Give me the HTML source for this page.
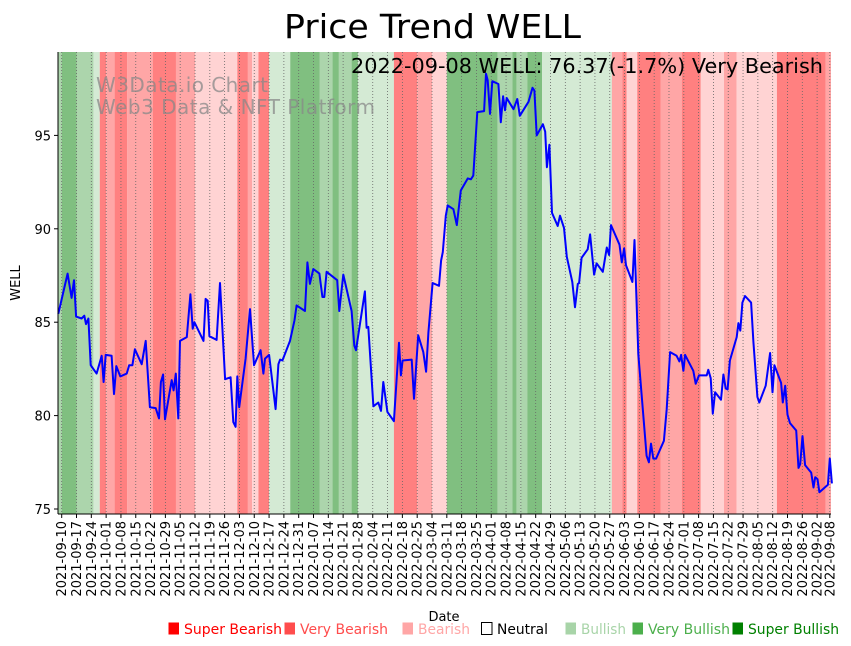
<!DOCTYPE html>
<html><head><meta charset="utf-8"><style>
body{margin:0;background:#fff;}
svg{display:block;font-family:"DejaVu Sans","Liberation Sans",sans-serif;}
</style></head><body>
<svg id="chart" width="851" height="646" viewBox="0 0 851 646" xmlns="http://www.w3.org/2000/svg">
<rect x="0" y="0" width="851" height="646" fill="#fff"/>
<g id="bands"></g>
<g id="grid"></g>
<text x="96" y="92" font-size="20" textLength="172" fill="#888" fill-opacity="0.75">W3Data.io Chart</text>
<text x="96" y="114" font-size="20" textLength="279" fill="#888" fill-opacity="0.75">Web3 Data &amp; NFT Platform</text>
<path id="priceLine" fill="none" stroke="#0000ff" stroke-width="2" stroke-linejoin="round"/>
<line x1="58" y1="52" x2="58" y2="514" stroke="#000" stroke-width="1"/>
<line x1="58" y1="514" x2="831" y2="514" stroke="#000" stroke-width="1"/>
<g id="yticks"></g>
<g id="xticks"></g>
<text x="284" y="38" font-size="33" textLength="297" lengthAdjust="spacingAndGlyphs" fill="#000">Price Trend WELL</text>
<text x="351" y="73" font-size="20.5" textLength="472" lengthAdjust="spacingAndGlyphs" fill="#000">2022-09-08 WELL: 76.37(-1.7%) Very Bearish</text>
<text x="20" y="283" font-size="13" text-anchor="middle" transform="rotate(-90 20 283)" fill="#000">WELL</text>
<text x="444" y="621" font-size="13" text-anchor="middle" fill="#000">Date</text>
<g id="legend"></g>
</svg>
<script>
// ---- data ----
const bandStarts = [-2,0,7,15,18,21,25,31,43,54,63,83,88,90,93,98,108,122,128,131,137,140,157,168,175,182,206,213,215,217,220,227,260,265,267,272,283,293,302,313,319,338,361];
const bandLevels = ["bu","vbu","bu","nbu","vbe","be","vbe","be","vbe","be","nbe","vbe","be","nbe","vbe","nbu","vbu","bu","vbu","bu","vbu","nbu","vbe","be","nbe","vbu","bu","vbu","bu","bu","vbu","nbu","be","vbe","nbe","vbe","be","vbe","nbe","be","nbe","vbe","be"];
const priceDays = [-1.6,2.8,4.7,5.8,6.8,9.4,10.7,11.5,12.6,13.7,16.5,18.9,19.8,20.8,23.6,24.7,25.8,27.7,30.7,31.9,33.4,34.6,37.8,39.7,41.7,44.4,46.0,46.9,47.9,48.8,52.0,52.9,53.9,55.1,55.9,59.1,60.8,61.9,62.7,67.0,68.0,69.0,69.8,73.2,74.8,77.2,79.8,81.1,82.2,83.0,83.9,86.9,89.0,90.9,94.0,95.3,96.1,98.0,101.1,102.4,103.2,104.3,107.9,110.0,111.0,115.0,116.1,117.3,118.9,121.8,123.2,124.1,125.2,130.2,131.2,133.1,137.0,138.3,139.1,143.3,144.1,144.9,147.3,149.6,150.9,152.0,153.9,157.0,159.4,160.3,161.1,165.4,166.5,168.5,170.9,172.2,173.3,175.3,178.3,179.3,180.1,181.5,182.4,185.1,186.7,188.6,191.9,193.4,194.5,196.4,199.6,200.5,201.3,202.4,203.5,206.4,207.5,208.6,209.5,210.3,213.5,215.3,216.5,220.6,222.5,223.4,224.5,227.4,228.5,229.3,230.5,231.7,234.4,235.5,237.4,238.7,241.3,242.6,243.9,244.5,245.7,248.6,249.7,251.6,252.8,255.7,257.6,258.7,259.6,263.6,264.7,265.8,266.7,269.7,270.7,272.5,276.4,277.5,278.5,279.6,280.9,284.6,285.9,287.5,290.6,291.9,292.7,293.8,294.6,298.5,299.6,301.2,304.8,305.6,306.7,307.7,308.8,311.6,312.7,313.8,314.7,315.8,319.0,319.8,320.7,321.7,322.9,325.8,326.9,328.8,329.7,332.7,334.8,335.9,336.8,340.0,340.8,341.9,343.0,344.2,347.1,348.2,349.0,350.1,351.3,354.2,355.3,356.1,357.2,358.1,362.1,363.0,364.0];
const priceValues = [85.45,87.6,86.3,87.25,85.3,85.2,85.35,84.9,85.2,82.7,82.25,83.2,81.8,83.25,83.2,81.15,82.65,82.1,82.25,82.7,82.7,83.55,82.75,84.0,80.45,80.4,79.85,81.8,82.2,79.8,81.9,81.35,82.25,79.85,84.0,84.2,86.5,84.65,85.0,84.0,86.25,86.15,84.25,84.05,87.1,81.95,82.05,79.65,79.4,82.1,80.45,83.05,85.7,82.7,83.5,82.25,83.05,83.25,80.35,82.75,83.0,82.95,84.0,85.1,85.9,85.6,88.2,87.05,87.85,87.6,86.35,86.35,87.7,87.25,85.6,87.55,85.6,83.75,83.5,86.65,84.7,84.75,80.5,80.7,80.25,81.8,80.2,79.7,83.9,82.15,82.95,83.0,80.9,84.3,83.4,82.35,84.45,87.1,86.95,88.3,88.75,90.7,91.25,91.05,90.2,92.05,92.7,92.65,92.85,96.25,96.3,98.3,97.95,96.15,97.9,97.75,95.7,97.1,96.35,97.0,96.4,96.95,96.05,96.8,97.55,97.4,95.0,95.6,95.2,93.3,94.5,90.85,90.15,90.7,90.05,88.5,87.15,85.8,87.05,87.1,88.45,88.9,89.7,87.55,88.15,87.7,89.0,88.6,90.2,89.15,88.2,88.95,88.05,87.15,89.4,83.3,77.85,77.5,78.5,77.7,77.7,78.65,80.35,83.4,83.2,82.9,83.25,82.4,83.25,82.4,81.7,82.15,82.15,82.45,82.0,80.1,81.25,80.85,82.2,81.45,81.4,82.95,84.2,84.95,84.55,86.05,86.4,86.05,83.95,81.0,80.7,81.6,83.35,81.25,82.7,81.75,80.7,81.6,80.05,79.6,79.2,77.2,77.4,78.9,77.35,76.95,76.15,76.7,76.6,75.9,76.3,77.7,76.37];
const yTickValues = [75,80,85,90,95];
const legendLabels = ["Super Bearish","Very Bearish","Bearish","Neutral","Bullish","Very Bullish","Super Bullish"];
const legendColors = ["#ff0000","#ff4d4d","#ffa6a6","#ffffff","#a8d4a8","#4caf4c","#008000"];
const legendX = [168,284,402,481,565,632,732];
const legendW = [98,88,52,51,45,82,91];
// ---- axes ----
const NS = "http://www.w3.org/2000/svg";
const PL = 58, PR = 831, PT = 52, PB = 514;
const x = d => 61.7 + d * 2.116;
const y = v => 509 - (v - 75) * 18.68;
const bandColor = {vbe:"#ff8080", be:"#ffa6a6", nbe:"#ffd3d3", nbu:"#d4ead4", bu:"#acd5ac", vbu:"#80bf80"};
function mk(tag, attrs, parent){const e=document.createElementNS(NS,tag);for(const k in attrs)e.setAttribute(k,attrs[k]);parent.appendChild(e);return e;}
const bands = document.getElementById('bands');
for (let i=0;i<bandStarts.length;i++){
  const x0 = Math.max(PL, x(bandStarts[i]));
  const x1 = i+1<bandStarts.length ? x(bandStarts[i+1]) : PR;
  const r = mk('rect',{x:x0,y:PT,width:Math.max(0,Math.min(PR,x1)-x0),height:PB-PT,fill:bandColor[bandLevels[i]]},bands);
  
  
}
const grid = document.getElementById('grid'), xt = document.getElementById('xticks');
const start = new Date(Date.UTC(2021,8,10));
const tickDays = [];
for (let d=0; d<=357; d+=7) tickDays.push(d);
tickDays.push(363);
for (const d of tickDays){
  const px = x(d);
  const gl = mk('line',{x1:px,y1:PT,x2:px,y2:PB,stroke:"#666","stroke-width":0.8,"stroke-dasharray":"1,2"},grid);
  
  
  const tl = mk('line',{x1:px,y1:PB,x2:px,y2:PB+4,stroke:"#000"},xt);
  
  
  const dt = new Date(start.getTime()+d*86400000);
  const lab = dt.toISOString().slice(0,10);
  const t = mk('text',{x:px+4.5,y:PB+7,"font-size":13,"text-anchor":"end",transform:`rotate(-90 ${px+4.5} ${PB+7})`,fill:"#000"},xt);
  t.textContent = lab;
  
  
}
const yt = document.getElementById('yticks');
for (const v of yTickValues){
  const py = y(v);
  const tl = mk('line',{x1:PL-4,y1:py,x2:PL,y2:py,stroke:"#000"},yt);
  
  
  const t = mk('text',{x:PL-7,y:py+5,"font-size":13,"text-anchor":"end",fill:"#000"},yt);
  t.textContent = v;
  
  
}
let dstr = "";
for (let i=0;i<priceDays.length;i++){ dstr += (i?"L":"M") + Math.max(PL,x(priceDays[i])).toFixed(1) + "," + y(priceValues[i]).toFixed(1); }
document.getElementById('priceLine').setAttribute('d', dstr);
const lg = document.getElementById('legend');
for (let i=0;i<legendLabels.length;i++){
  const sq = mk('rect',{x:legendX[i]+0.5,y:622.5,width:10.5,height:12,fill:legendColors[i],stroke:i===3?"#000":"none"},lg);
  
  
  const t = mk('text',{x:legendX[i]+16,y:634,"font-size":14,textLength:legendW[i],lengthAdjust:"spacingAndGlyphs",fill:i===3?"#000":legendColors[i]},lg);
  t.textContent = legendLabels[i];
  
  
}
</script>
</body></html>
